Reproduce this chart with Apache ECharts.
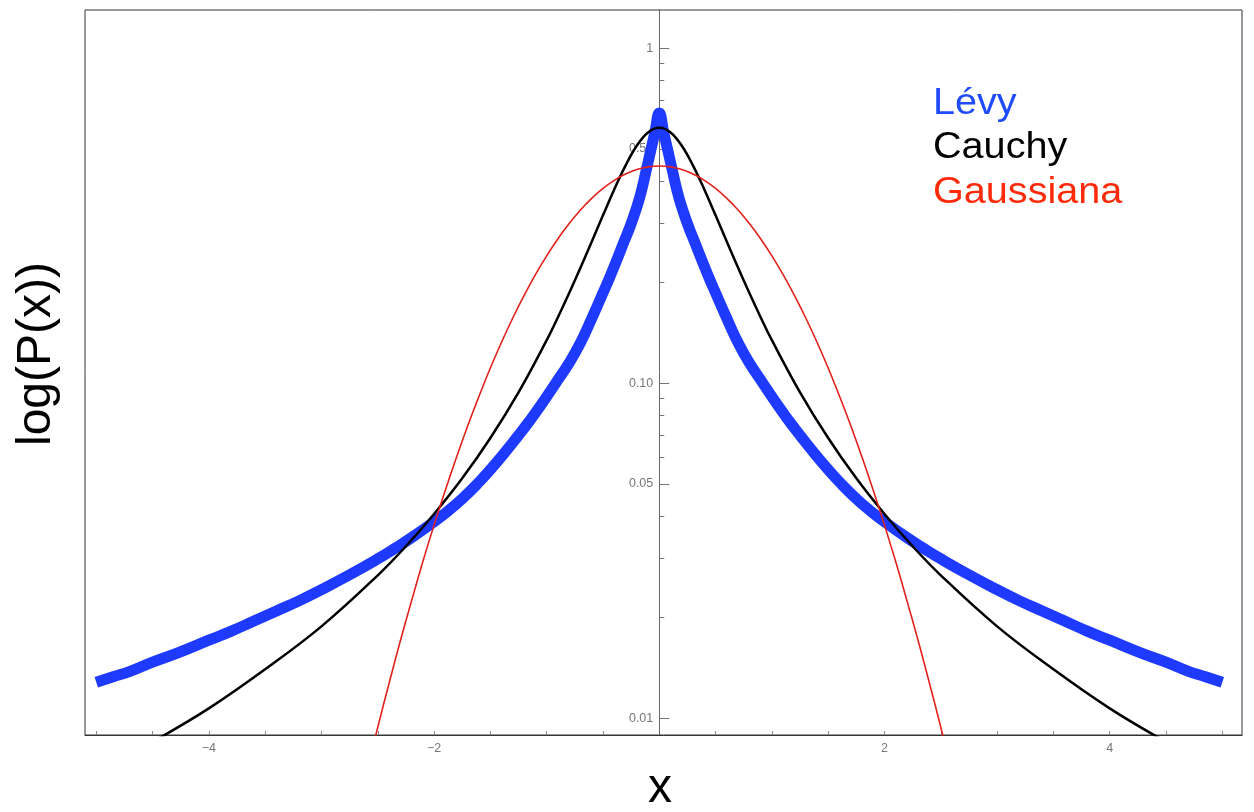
<!DOCTYPE html>
<html><head><meta charset="utf-8">
<script src="https://cdn.jsdelivr.net/npm/echarts@6/dist/echarts.min.js"></script>
<style>html,body{margin:0;padding:0;background:#fff}#c{width:1254px;height:812px}</style>
</head><body><div id="c"></div>
<script>
// ---- data ----
const levyX = [-5, -4.85, -4.7, -4.5, -4.27, -4, -3.8, -3.6, -3.4, -3.2, -3, -2.75, -2.5, -2.35, -2.2, -2, -1.87, -1.75, -1.6, -1.5, -1.37, -1.26, -1.15, -1.05, -0.92, -0.8, -0.7, -0.6, -0.5, -0.44, -0.38, -0.32, -0.26, -0.2, -0.16, -0.12, -0.08, -0.04, 0,
               0.04, 0.08, 0.12, 0.16, 0.2, 0.26, 0.32, 0.38, 0.44, 0.5, 0.6, 0.7, 0.8, 0.92, 1.05, 1.15, 1.26, 1.37, 1.5, 1.6, 1.75, 1.87, 2, 2.2, 2.35, 2.5, 2.75, 3, 3.2, 3.4, 3.6, 3.8, 4, 4.27, 4.5, 4.7, 4.85, 5];
const levyY = [0.0128, 0.0133, 0.0138, 0.0147, 0.0157, 0.0171, 0.0182, 0.0195, 0.0209, 0.0224, 0.0242, 0.0268, 0.0299, 0.0321, 0.0346, 0.0386, 0.0417, 0.0452, 0.0507, 0.0552, 0.0622, 0.0692, 0.0773, 0.0861, 0.100, 0.115, 0.132, 0.156, 0.186, 0.207, 0.232, 0.261, 0.293, 0.335, 0.373, 0.426, 0.488, 0.558, 0.640,
               0.558, 0.488, 0.426, 0.373, 0.335, 0.293, 0.261, 0.232, 0.207, 0.186, 0.156, 0.132, 0.115, 0.100, 0.0861, 0.0773, 0.0692, 0.0622, 0.0552, 0.0507, 0.0452, 0.0417, 0.0386, 0.0346, 0.0321, 0.0299, 0.0268, 0.0242, 0.0224, 0.0209, 0.0195, 0.0182, 0.0171, 0.0157, 0.0147, 0.0138, 0.0133, 0.0128];

const cauchyX = [-5, -4.5, -4, -3.5, -3, -2.5, -2.25, -2, -1.75, -1.5, -1.25, -1, -0.9, -0.8, -0.7, -0.6, -0.5, -0.4, -0.3, -0.2, -0.1, 0,
                 0.1, 0.2, 0.3, 0.4, 0.5, 0.6, 0.7, 0.8, 0.9, 1, 1.25, 1.5, 1.75, 2, 2.25, 2.5, 3, 3.5, 4, 4.5, 5];
const cauchyY = [0.0069, 0.0085, 0.0107, 0.0140, 0.0188, 0.0267, 0.0326, 0.0407, 0.0520, 0.0686, 0.0939, 0.1344, 0.1574, 0.1858, 0.2210, 0.2644, 0.3170, 0.3787, 0.4462, 0.5114, 0.5605, 0.579,
                 0.5605, 0.5114, 0.4462, 0.3787, 0.3170, 0.2644, 0.2210, 0.1858, 0.1574, 0.1344, 0.0939, 0.0686, 0.0520, 0.0407, 0.0326, 0.0267, 0.0188, 0.0140, 0.0107, 0.0085, 0.0069];

const gaussX = [-2.7, -2.6, -2.5, -2.4, -2.3, -2.2, -2.1, -2, -1.9, -1.8, -1.7, -1.6, -1.5, -1.4, -1.3, -1.2, -1.1, -1, -0.9, -0.8, -0.7, -0.6, -0.5, -0.4, -0.3, -0.2, -0.1, 0,
                0.1, 0.2, 0.3, 0.4, 0.5, 0.6, 0.7, 0.8, 0.9, 1, 1.1, 1.2, 1.3, 1.4, 1.5, 1.6, 1.7, 1.8, 1.9, 2, 2.1, 2.2, 2.3, 2.4, 2.5, 2.6, 2.7];
const gaussY = [0.00494, 0.00686, 0.0094, 0.0127, 0.0170, 0.0224, 0.0293, 0.0377, 0.0479, 0.0602, 0.0748, 0.0916, 0.1110, 0.1327, 0.1568, 0.1829, 0.2109, 0.2400, 0.2699, 0.2997, 0.3289, 0.3563, 0.3814, 0.4032, 0.4209, 0.4341, 0.4423, 0.445,
                0.4423, 0.4341, 0.4209, 0.4032, 0.3814, 0.3563, 0.3289, 0.2997, 0.2699, 0.2400, 0.2109, 0.1829, 0.1568, 0.1327, 0.1110, 0.0916, 0.0748, 0.0602, 0.0479, 0.0377, 0.0293, 0.0224, 0.0170, 0.0127, 0.0094, 0.00686, 0.00494];

const xTickValues = [-5, -4.5, -4, -3.5, -3, -2.5, -2, -1.5, -1, -0.5, 0.5, 1, 1.5, 2, 2.5, 3, 3.5, 4, 4.5, 5];
const xLabelValues = [-4, -2, 2, 4];
const yTickValues = [0.01, 0.05, 0.1, 0.5, 1];
const yTickLabels = ['0.01', '0.05', '0.10', '0.50', '1'];
const yMinorTickValues = [0.02, 0.03, 0.04, 0.06, 0.07, 0.08, 0.09, 0.2, 0.3, 0.4, 0.6, 0.7, 0.8, 0.9];
const seriesNames = ['Lévy', 'Cauchy', 'Gaussiana'];
const axisTitles = { x: 'x', y: 'log(P(x))' };

// ---- chart ----
const pair = (xs, ys) => xs.map((x, i) => [x, ys[i]]);
const FONT = '"Liberation Sans", Arial, sans-serif';
const W = 1254, GRID_L = 85, GRID_R = 12;
const X_MIN = -5.1, X_MAX = 5.175;
const Y_MIN = 0.00891, Y_MAX = 1.30;
// place the y axis where x = 0 (Mathematica-style crossing axis)
const Y_AXIS_OFFSET = -(0 - X_MIN) / (X_MAX - X_MIN) * (W - GRID_L - GRID_R);

const chart = echarts.init(document.getElementById('c'), null, { renderer: 'canvas' });
chart.setOption({
  animation: false,
  backgroundColor: '#fff',
  grid: { left: GRID_L, right: GRID_R, top: 10, bottom: 77, show: true, borderColor: '#333', borderWidth: 1, containLabel: false },
  xAxis: {
    type: 'value', min: X_MIN, max: X_MAX,
    axisLine: { onZero: false, lineStyle: { color: '#333', width: 1 } },
    splitLine: { show: false },
    axisTick: { inside: true, length: 4, customValues: xTickValues, lineStyle: { color: '#888' } },
    axisLabel: { customValues: xLabelValues, color: '#777', fontSize: 12.5, fontFamily: FONT, margin: 7,
      formatter: v => String(v).replace('-', '\u2212') }
  },
  yAxis: [{
    type: 'log', logBase: 10, min: Y_MIN, max: Y_MAX, position: 'left', offset: Y_AXIS_OFFSET,
    axisLine: { show: true, onZero: false, lineStyle: { color: '#666', width: 1 } },
    splitLine: { show: false },
    axisTick: { show: true, inside: true, length: 10, customValues: yTickValues, lineStyle: { color: '#777' } },
    axisLabel: { customValues: yTickValues, color: '#777', fontSize: 12.5, fontFamily: FONT, margin: 6,
      formatter: v => { const i = yTickValues.findIndex(t => Math.abs(t - v) / t < 1e-4); return i >= 0 ? yTickLabels[i] : ''; } }
  }, {
    type: 'log', logBase: 10, min: Y_MIN, max: Y_MAX, position: 'left', offset: Y_AXIS_OFFSET,
    axisLine: { show: false, onZero: false },
    splitLine: { show: false },
    axisTick: { show: true, inside: true, length: 5, customValues: yMinorTickValues, lineStyle: { color: '#777' } },
    axisLabel: { show: false }
  }],
  series: [
    { name: seriesNames[0], type: 'line', data: pair(levyX, levyY), yAxisIndex: 0, smooth: 0.5, showSymbol: false,
      lineStyle: { color: '#1e3aff', width: 11, join: 'round' }, z: 2 },
    { name: seriesNames[1], type: 'line', data: pair(cauchyX, cauchyY), yAxisIndex: 0, smooth: 0.4, showSymbol: false,
      lineStyle: { color: '#000', width: 2.5 }, z: 3 },
    { name: seriesNames[2], type: 'line', data: pair(gaussX, gaussY), yAxisIndex: 0, smooth: 0.4, showSymbol: false,
      lineStyle: { color: '#e3211c', width: 1.6 }, z: 4 }
  ],
  graphic: [
    { type: 'text', x: 933, y: 103.5, scaleX: 1.07, style: { text: seriesNames[0], fill: '#1f4bff', font: '37px ' + FONT, verticalAlign: 'middle' } },
    { type: 'text', x: 933, y: 148, scaleX: 1.07, style: { text: seriesNames[1], fill: '#000', font: '37px ' + FONT, verticalAlign: 'middle' } },
    { type: 'text', x: 933, y: 192.5, scaleX: 1.07, style: { text: seriesNames[2], fill: '#ff2a0a', font: '37px ' + FONT, verticalAlign: 'middle' } },
    { type: 'text', x: 37, y: 354, rotation: Math.PI / 2,
      style: { text: axisTitles.y, fill: '#000', font: '48px ' + FONT, align: 'center', verticalAlign: 'middle' } },
    { type: 'text', x: 660, y: 789,
      style: { text: axisTitles.x, fill: '#000', font: '48px ' + FONT, align: 'center', verticalAlign: 'middle' } }
  ]
});
</script>
</body></html>
